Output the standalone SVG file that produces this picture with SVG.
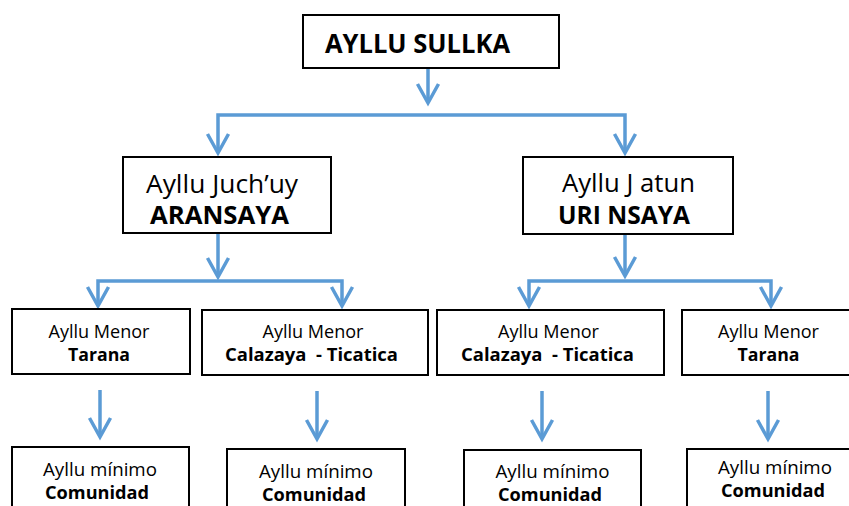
<svg xmlns="http://www.w3.org/2000/svg" width="849" height="506" viewBox="0 0 849 506">
<style>
.box{fill:#fff;stroke:#000;stroke-width:2}
.r{font-family:"Open Sans","Noto Sans","DejaVu Sans",sans-serif;fill:#000;text-anchor:middle;white-space:pre}
.b{font-weight:bold}
.conn{fill:none;stroke:#5B9BD5;stroke-width:3.5;stroke-linejoin:miter}
</style>
<defs>
<marker id="ah" markerUnits="userSpaceOnUse" orient="auto-start-reverse" markerWidth="30" markerHeight="30" refX="0" refY="0" viewBox="-25 -15 30 30" overflow="visible">
<path d="M-19,-10.5 L0,0 L-19,10.5" fill="none" stroke="#5B9BD5" stroke-width="3.5"/>
</marker>
</defs>
<rect width="849" height="506" fill="#fff"/>
<g id="connectors">
<path class="conn" d="M428,68 V103" marker-end="url(#ah)"/>
<path class="conn" d="M218,153 V115 H625 V153" marker-start="url(#ah)" marker-end="url(#ah)"/>
<path class="conn" d="M218,234 V277" marker-end="url(#ah)"/>
<path class="conn" d="M98,306 V281 H342 V306" marker-start="url(#ah)" marker-end="url(#ah)"/>
<path class="conn" d="M625,234 V276" marker-end="url(#ah)"/>
<path class="conn" d="M529,306 V281 H771 V306" marker-start="url(#ah)" marker-end="url(#ah)"/>
<path class="conn" d="M100,390 V437" marker-end="url(#ah)"/>
<path class="conn" d="M317,391 V439" marker-end="url(#ah)"/>
<path class="conn" d="M542,391 V439" marker-end="url(#ah)"/>
<path class="conn" d="M768,391 V439" marker-end="url(#ah)"/>
</g>
<g id="n-sullka">
<rect class="box" x="303" y="15" width="256" height="53"/>
<text class="r b" x="417.5" y="53" font-size="26" textLength="185" lengthAdjust="spacingAndGlyphs">AYLLU SULLKA</text>
</g>
<g id="n-aransaya">
<rect class="box" x="123" y="157" width="208" height="76"/>
<text class="r" x="222" y="193" font-size="25" textLength="152" lengthAdjust="spacingAndGlyphs">Ayllu Juch’uy</text>
<text class="r b" x="219.5" y="224" font-size="25" textLength="139" lengthAdjust="spacingAndGlyphs">ARANSAYA</text>
</g>
<g id="n-urinsaya">
<rect class="box" x="523" y="157" width="210" height="77"/>
<text class="r" x="628.5" y="192" font-size="25" textLength="133" lengthAdjust="spacingAndGlyphs">Ayllu J atun</text>
<text class="r b" x="624" y="224" font-size="25" textLength="132" lengthAdjust="spacingAndGlyphs">URI NSAYA</text>
</g>
<g id="n-menor1">
<rect class="box" x="12" y="309" width="178" height="65"/>
<text class="r" x="99" y="338" font-size="18" textLength="101" lengthAdjust="spacingAndGlyphs">Ayllu Menor</text>
<text class="r b" x="99" y="361" font-size="18" textLength="62" lengthAdjust="spacingAndGlyphs">Tarana</text>
</g>
<g id="n-menor2">
<rect class="box" x="202" y="310" width="226" height="65"/>
<text class="r" x="313" y="338" font-size="18" textLength="101" lengthAdjust="spacingAndGlyphs">Ayllu Menor</text>
<text class="r b" x="311.5" y="361" font-size="18" textLength="173" lengthAdjust="spacingAndGlyphs">Calazaya  - Ticatica</text>
</g>
<g id="n-menor3">
<rect class="box" x="437" y="310" width="227" height="65"/>
<text class="r" x="548.5" y="338" font-size="18" textLength="101" lengthAdjust="spacingAndGlyphs">Ayllu Menor</text>
<text class="r b" x="547.5" y="361" font-size="18" textLength="173" lengthAdjust="spacingAndGlyphs">Calazaya  - Ticatica</text>
</g>
<g id="n-menor4">
<rect class="box" x="682" y="310" width="174" height="65"/>
<text class="r" x="768.5" y="338" font-size="18" textLength="101" lengthAdjust="spacingAndGlyphs">Ayllu Menor</text>
<text class="r b" x="768.5" y="361" font-size="18" textLength="62" lengthAdjust="spacingAndGlyphs">Tarana</text>
</g>
<g id="n-min1">
<rect class="box" x="12" y="447" width="177" height="70"/>
<text class="r" x="100" y="476" font-size="18" textLength="114" lengthAdjust="spacingAndGlyphs">Ayllu mínimo</text>
<text class="r b" x="97" y="499" font-size="18" textLength="104" lengthAdjust="spacingAndGlyphs">Comunidad</text>
</g>
<g id="n-min2">
<rect class="box" x="227" y="449" width="178" height="70"/>
<text class="r" x="316" y="478" font-size="18" textLength="114" lengthAdjust="spacingAndGlyphs">Ayllu mínimo</text>
<text class="r b" x="314" y="501" font-size="18" textLength="104" lengthAdjust="spacingAndGlyphs">Comunidad</text>
</g>
<g id="n-min3">
<rect class="box" x="464" y="450" width="177" height="70"/>
<text class="r" x="552.5" y="478" font-size="18" textLength="114" lengthAdjust="spacingAndGlyphs">Ayllu mínimo</text>
<text class="r b" x="550" y="501" font-size="18" textLength="104" lengthAdjust="spacingAndGlyphs">Comunidad</text>
</g>
<g id="n-min4">
<rect class="box" x="687" y="449" width="175" height="70"/>
<text class="r" x="775" y="474" font-size="18" textLength="114" lengthAdjust="spacingAndGlyphs">Ayllu mínimo</text>
<text class="r b" x="773" y="497" font-size="18" textLength="104" lengthAdjust="spacingAndGlyphs">Comunidad</text>
</g>
</svg>
